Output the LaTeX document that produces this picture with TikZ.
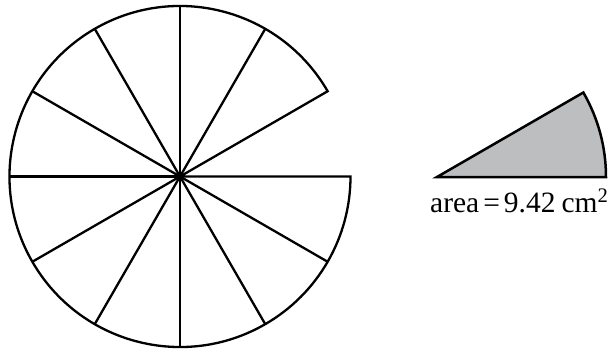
\documentclass[tikz,border=0pt]{standalone}
\usepackage{fontspec}
\setmainfont{Liberation Serif}
\definecolor{sectorgray}{RGB}{188,190,192}
\begin{document}
\begin{tikzpicture}[x=1pt,y=1pt,
  edge/.style={line width=2.3pt, line join=miter},
  piece/.style={line width=2.5pt, fill=sectorgray, line join=miter}]
\useasboundingbox (0,0) rectangle (613,349);
\coordinate (c) at (180,172.5);
\def\R{170.5}
% circle with one 30-degree sector removed
\draw[edge] (c) -- ++(30:\R) arc[start angle=30, end angle=360, radius=\R] -- cycle;
\foreach \a in {60,90,...,330} {
  \draw[edge] (c) -- ++(\a:\R);
}
% removed sector
\coordinate (s) at (437,172);
\draw[piece] (s) -- ++(30:169) arc[start angle=30, end angle=0, radius=169] -- cycle;
\node[anchor=base west, inner sep=0pt, font=\fontsize{29.5}{36}\selectfont] (lbl) at (430,137)
  {area\hspace{4pt}=\hspace{4pt}9.42\hspace{6pt}cm\textsuperscript{2}};
\end{tikzpicture}
\end{document}
